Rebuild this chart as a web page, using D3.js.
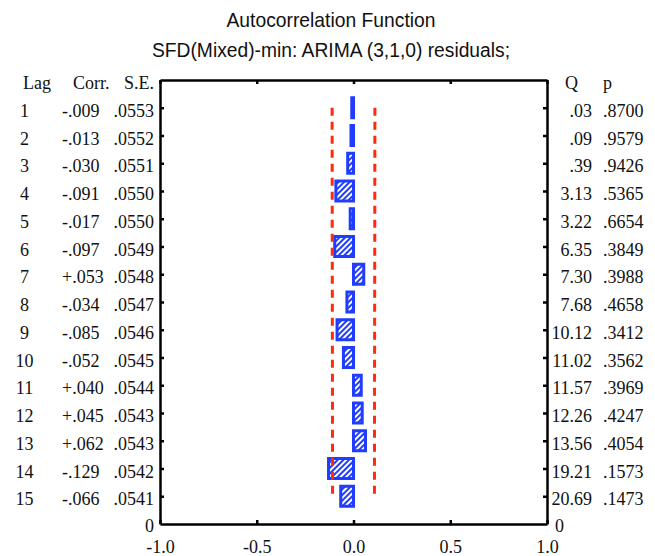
<!DOCTYPE html>
<html>
<head>
<meta charset="utf-8">
<script src="https://cdn.jsdelivr.net/npm/d3@7"></script>
<style>
  html, body { margin: 0; padding: 0; background: #fff; }
  svg { display: block; }
</style>
</head>
<body>
<script>
// ---------- data ----------
const lags = [1,2,3,4,5,6,7,8,9,10,11,12,13,14,15];
const corr = [-0.009,-0.013,-0.030,-0.091,-0.017,-0.097,0.053,-0.034,-0.085,-0.052,0.040,0.045,0.062,-0.129,-0.066];
const se = [0.0553,0.0552,0.0551,0.0550,0.0550,0.0549,0.0548,0.0547,0.0546,0.0545,0.0544,0.0543,0.0543,0.0542,0.0541];
const qStat = [0.03,0.09,0.39,3.13,3.22,6.35,7.30,7.68,10.12,11.02,11.57,12.26,13.56,19.21,20.69];
const pVal = [0.8700,0.9579,0.9426,0.5365,0.6654,0.3849,0.3988,0.4658,0.3412,0.3562,0.3969,0.4247,0.4054,0.1573,0.1473];
const xTicks = [-1.0,-0.5,0.0,0.5,1.0];
const title = "Autocorrelation Function";
const subtitle = "SFD(Mixed)-min: ARIMA (3,1,0) residuals;";

// ---------- layout ----------
const W = 655, H = 556;
const L = 160, R = 547, T = 80, B = 524;
const blue = "#1f3cff", red = "#ff2a10", ink = "#111";
const serif = "'Liberation Serif','Times New Roman',serif";
const narrow = "'Liberation Sans Narrow','Arial Narrow','Liberation Sans',Arial,sans-serif";

const svg = d3.select("body").append("svg").attr("width", W).attr("height", H);

const defs = svg.append("defs");
const pat = defs.append("pattern").attr("id","hatch")
  .attr("patternUnits","userSpaceOnUse").attr("width",4).attr("height",4)
  .attr("patternTransform","rotate(45)");
pat.append("rect").attr("width",4).attr("height",4).attr("fill",blue);
pat.append("line").attr("x1",2).attr("y1",0).attr("x2",2).attr("y2",4)
  .attr("stroke","#fff").attr("stroke-width",2);

const x = d3.scaleLinear().domain([-1,1]).range([L,R]);
const y = d3.scaleLinear().domain([0,16]).range([T,B]);

// titles
svg.append("text").attr("x",331).attr("y",27).attr("text-anchor","middle")
  .attr("font-family",narrow).attr("font-size",21).attr("fill",ink)
  .attr("textLength",209).attr("lengthAdjust","spacingAndGlyphs").text(title);
svg.append("text").attr("x",331).attr("y",57).attr("text-anchor","middle")
  .attr("font-family",narrow).attr("font-size",20).attr("fill",ink)
  .attr("textLength",358).attr("lengthAdjust","spacingAndGlyphs").text(subtitle);

// bars
const rows = lags.map((l,i)=>({lag:l, c:corr[i], se:se[i], q:qStat[i], p:pVal[i]}));
svg.append("g").selectAll("rect").data(rows).join("rect")
  .attr("x", d => x(Math.min(0,d.c)))
  .attr("width", d => Math.abs(x(d.c)-x(0)))
  .attr("y", d => y(d.lag)-10)
  .attr("height", 20)
  .attr("fill","url(#hatch)")
  .attr("stroke",blue).attr("stroke-width",3);

// confidence limits
const lineHi = d3.line().x(d=>x(2*d.se)).y(d=>y(d.lag));
const lineLo = d3.line().x(d=>x(-2*d.se)).y(d=>y(d.lag));
[lineHi, lineLo].forEach(f => svg.append("path").attr("d", f(rows))
  .attr("fill","none").attr("stroke",red).attr("stroke-width",3)
  .attr("stroke-dasharray","8,6"));

// axes
function styleAxis(g){
  g.selectAll("path.domain").attr("stroke","#000").attr("stroke-width",2.5);
  g.selectAll(".tick line").attr("stroke","#000").attr("stroke-width",2.5);
  g.selectAll(".tick text").attr("font-family",serif).attr("font-size",18).attr("fill",ink);
}
const fmtX = d => d3.format(".1f")(d).replace("−","-");
svg.append("g").attr("transform",`translate(0,${B})`)
  .call(d3.axisBottom(x).tickValues(xTicks).tickSize(-4).tickSizeOuter(0).tickPadding(16).tickFormat(fmtX))
  .call(styleAxis);
svg.append("g").attr("transform",`translate(0,${T})`)
  .call(d3.axisTop(x).tickValues(xTicks).tickSize(-4).tickSizeOuter(0).tickFormat(""))
  .call(styleAxis);
svg.append("g").attr("transform",`translate(${L},0)`)
  .call(d3.axisLeft(y).tickValues(lags).tickSize(-4).tickSizeOuter(0).tickFormat(""))
  .call(styleAxis);
svg.append("g").attr("transform",`translate(${R},0)`)
  .call(d3.axisRight(y).tickValues(lags).tickSize(-4).tickSizeOuter(0).tickFormat(""))
  .call(styleAxis);

// table text
const txt = (xp, yp, s, anchor) => svg.append("text").attr("x",xp).attr("y",yp)
  .attr("text-anchor",anchor||"start").attr("font-family",serif).attr("font-size",18)
  .attr("fill",ink).text(s);
const hy = T + 8.5;
txt(23, hy, "Lag");
txt(73, hy, "Corr.");
txt(154, hy, "S.E.", "end");
txt(565, hy, "Q");
txt(603, hy, "p");

const noLead = s => s.replace(/^(-?)0\./,"$1.");
const fmtC = c => (c>0?"+":"-") + noLead(Math.abs(c).toFixed(3));
rows.forEach(d => {
  const by = y(d.lag) + 9;
  txt(24.5, by, String(d.lag), "middle");
  txt(62, by, fmtC(d.c));
  txt(154, by, noLead(d.se.toFixed(4)), "end");
  txt(592, by, noLead(d.q.toFixed(2)), "end");
  txt(603, by, noLead(d.p.toFixed(4)));
});
txt(154, B + 8, "0", "end");
txt(555, B + 8, "0");
</script>
</body>
</html>
